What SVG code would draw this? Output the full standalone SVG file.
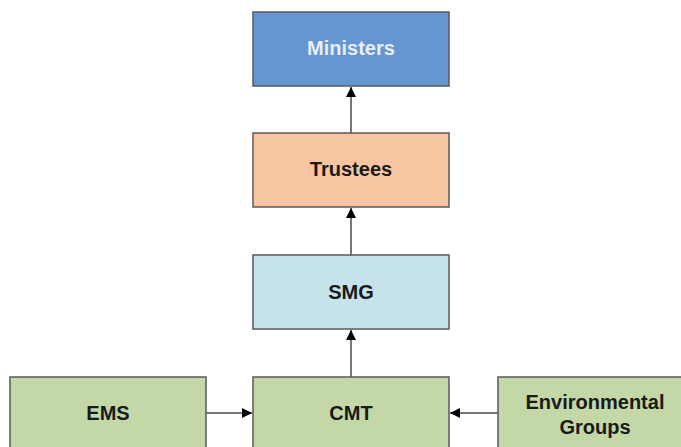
<svg xmlns="http://www.w3.org/2000/svg" width="681" height="447" viewBox="0 0 681 447">
  <style>
    .box { stroke: #5a5a5a; stroke-width: 1.5; }
    .lbl { font-family: "Liberation Sans", Arial, sans-serif; font-weight: bold; font-size: 20px; fill: #1a1a1a; text-anchor: middle; dominant-baseline: central; }
    .conn { stroke: #4a4a4a; stroke-width: 1.5; fill: none; marker-end: url(#arrow); }
  </style>
  <defs>
    <marker id="arrow" viewBox="0 0 10 10" refX="10" refY="5" markerWidth="10" markerHeight="10" markerUnits="userSpaceOnUse" orient="auto">
      <path d="M0,0 L10,5 L0,10 z" fill="#000"/>
    </marker>
  </defs>
  <rect width="681" height="447" fill="#ffffff"/>

  <g id="connectors">
    <line class="conn" x1="351" y1="133" x2="351" y2="87"/>
    <line class="conn" x1="351" y1="255" x2="351" y2="208"/>
    <line class="conn" x1="351" y1="377" x2="351" y2="330"/>
    <line class="conn" x1="206" y1="413" x2="252" y2="413"/>
    <line class="conn" x1="498" y1="413" x2="450" y2="413"/>
  </g>

  <g id="ministers">
    <rect class="box" x="253" y="12" width="196" height="74" fill="#6596d1"/>
    <text class="lbl" x="351" y="48" style="fill:#e8eef8">Ministers</text>
  </g>
  <g id="trustees">
    <rect class="box" x="253" y="133" width="196" height="74" fill="#f7c59f"/>
    <text class="lbl" x="351" y="169">Trustees</text>
  </g>
  <g id="smg">
    <rect class="box" x="253" y="255" width="196" height="74" fill="#c6e3ec"/>
    <text class="lbl" x="351" y="292">SMG</text>
  </g>
  <g id="ems">
    <rect class="box" x="10" y="377" width="196" height="74" fill="#c3d8a6"/>
    <text class="lbl" x="108" y="413">EMS</text>
  </g>
  <g id="cmt">
    <rect class="box" x="253" y="377" width="196" height="74" fill="#c3d8a6"/>
    <text class="lbl" x="351" y="413">CMT</text>
  </g>
  <g id="environmental-groups">
    <rect class="box" x="498" y="377" width="196" height="74" fill="#c3d8a6"/>
    <text class="lbl" x="595" y="402">Environmental</text>
    <text class="lbl" x="595" y="427">Groups</text>
  </g>
</svg>
